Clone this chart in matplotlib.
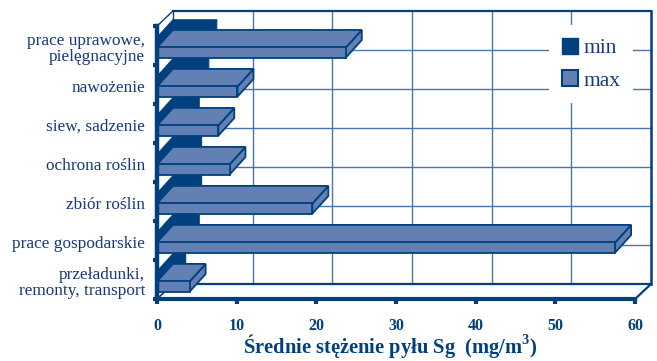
"""
Średnie stężenie pyłu przy pracach rolniczych - wykres słupkowy z efektem 3D.
"""

import matplotlib.pyplot as plt
from matplotlib.patches import Polygon, Patch

# kategorie od góry do dołu, tak jak na wykresie
categories = ["prace uprawowe,\npielęgnacyjne", "nawożenie", "siew, sadzenie",
              "ochrona roślin", "zbiór roślin", "prace gospodarskie",
              "przeładunki,\nremonty, transport"]
min_values = [5.5, 4.5, 3.3, 3.6, 3.6, 3.3, 1.6]
max_values = [23.7, 10.1, 7.7, 9.1, 19.5, 57.5, 4.1]
x_ticks = [0, 10, 20, 30, 40, 50, 60]
series_names = ["min", "max"]

DARK = "#00407F"
LIGHT = "#6380B5"
TEXT = "#17387A"
GRID = "#4A74AC"

# glebokosc "3D" w jednostkach danych
DX, DY = 2.0, 0.385   # sciana tylna
BDY = 0.45            # glebokosc slupka
BAR_H = 0.26

plt.rcParams['font.family'] = ['Liberation Serif', 'DejaVu Serif']
plt.rcParams['mathtext.fontset'] = 'custom'
plt.rcParams['mathtext.rm'] = 'Liberation Serif'
plt.rcParams['mathtext.bf'] = 'Liberation Serif:bold'


def box(ax, y0, length, face, edge, lw):
    """slupek jako prostopadloscian: bok, gora, przod"""
    h = BAR_H
    side = [(length, y0), (length + DX, y0 + BDY), (length + DX, y0 + h + BDY), (length, y0 + h)]
    top = [(0, y0 + h), (length, y0 + h), (length + DX, y0 + h + BDY), (DX, y0 + h + BDY)]
    front = [(0, y0), (length, y0), (length, y0 + h), (0, y0 + h)]
    for pts in (side, top, front):
        ax.add_patch(Polygon(pts, closed=True, facecolor=face, edgecolor=edge,
                             lw=lw, zorder=2, joinstyle='miter'))


fig = plt.figure(figsize=(6.57, 3.61), dpi=100)
n = len(categories)
ax = fig.add_axes([157 / 657, 62 / 361, 498 / 657, 290.5 / 361])
ax.set_xlim(0, 62.5)
ax.set_ylim(0, n + 0.45)

# sciana tylna z siatka
for v in x_ticks[1:-1]:
    ax.plot([v + DX, v + DX], [DY, n + DY], color=GRID, lw=1, zorder=1)
for j in range(1, n):
    ax.plot([DX, 60 + DX], [j + DY, j + DY], color=GRID, lw=1, zorder=1)
ax.plot([DX, 60 + DX], [n + DY, n + DY], color=DARK, lw=1.6, zorder=1)
ax.plot([60 + DX, 60 + DX], [DY, n + DY], color=DARK, lw=1.8, zorder=1)
ax.plot([DX, 60 + DX], [DY, DY], color=DARK, lw=1.6, zorder=1)
ax.plot([DX, DX], [DY, n + DY], color=DARK, lw=1, zorder=1)
ax.plot([0, DX], [n, n + DY], color=DARK, lw=1, zorder=1)
ax.plot([0, DX], [0, DY], color=DARK, lw=1.2, zorder=1)
ax.plot([60, 60 + DX], [0, DY], color=DARK, lw=1.6, zorder=1)

# slupki - od gornej kategorii w dol, min za max
for k in range(n):
    i = n - 1 - k
    box(ax, i + 0.45, min_values[k], DARK, DARK, 0.8)
    box(ax, i + 0.19, max_values[k], LIGHT, DARK, 1.3)

for side in ("top", "right"):
    ax.spines[side].set_visible(False)
ax.spines["bottom"].set_bounds(0, 60)
ax.spines["bottom"].set_linewidth(3)
ax.spines["bottom"].set_color(DARK)
ax.spines["left"].set_bounds(0, n)
ax.spines["left"].set_linewidth(3.2)
ax.spines["left"].set_color(DARK)

ax.set_xticks(x_ticks)
ax.set_xticklabels([str(t) for t in x_ticks], fontweight='bold')
ax.tick_params(axis='x', direction='out', length=3.5, width=3, color=DARK,
               labelsize=11.5, labelcolor=DARK, pad=10)

ax.set_yticks(range(n + 1))
ax.set_yticklabels([])
ax.set_yticks([i + 0.47 for i in range(n)], labels=categories[::-1], minor=True)
ax.tick_params(axis='y', which='major', direction='out', length=3, width=3, color=DARK)
ax.tick_params(axis='y', which='minor', length=0, pad=8.5, labelsize=12.4,
               labelcolor=TEXT)
for lbl in ax.get_yticklabels(minor=True):
    lbl.set_linespacing(1.05)

ax.set_xlabel(r"Średnie stężenie pyłu Sg  (mg/m$^{\mathbf{3}}$)", fontsize=14.8,
              fontweight='bold', color=DARK)
ax.xaxis.set_label_coords(0.468, -0.115)

handles = [Patch(facecolor=DARK, edgecolor=DARK),
           Patch(facecolor=LIGHT, edgecolor=DARK, lw=1.5)]
leg = ax.legend(handles, series_names, loc='upper left',
                bbox_to_anchor=(549 / 657, 1 - 25 / 361), bbox_transform=fig.transFigure,
                frameon=True, fancybox=False, edgecolor='none', facecolor='white',
                framealpha=1, fontsize=15.5, handlelength=0.75, handleheight=0.75,
                handletextpad=0.25, labelspacing=0.55, borderpad=0.6, borderaxespad=0)
for t in leg.get_texts():
    t.set_color(TEXT)

fig.savefig("out.png", dpi=100)
